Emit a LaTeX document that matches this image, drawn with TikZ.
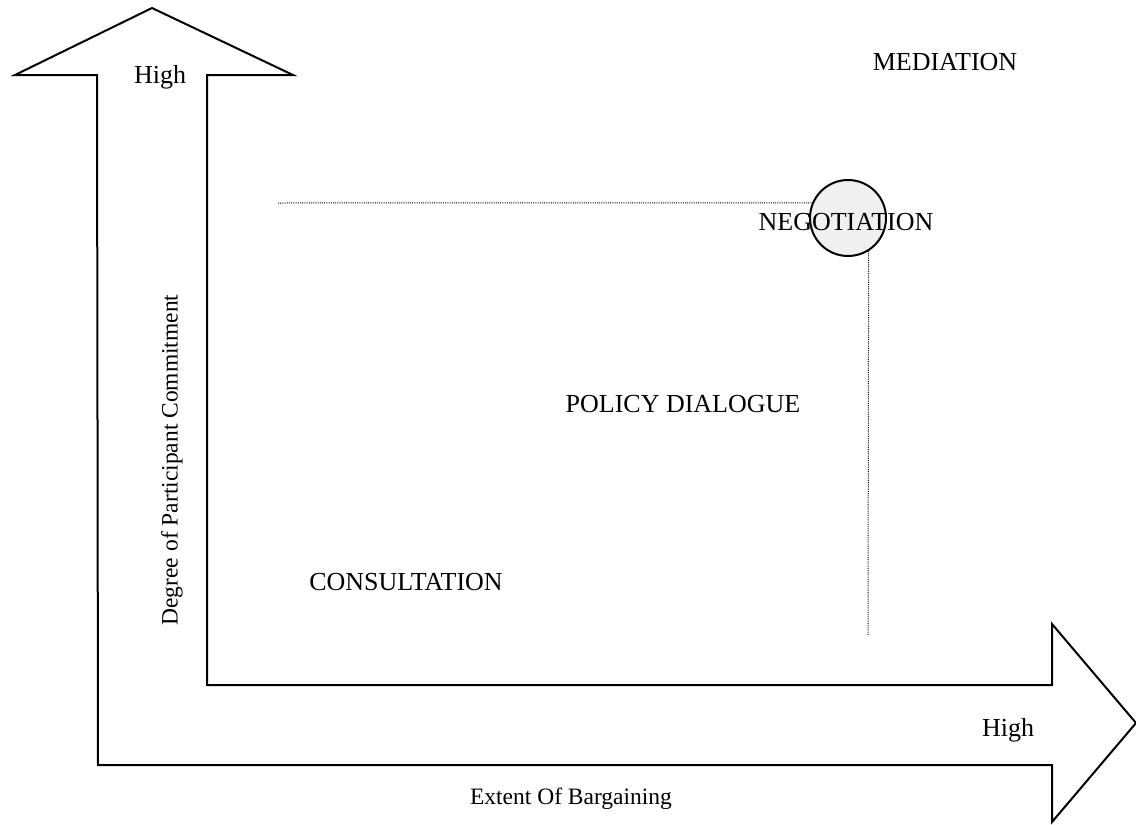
\documentclass[tikz,border=0pt]{standalone}
\usepackage{fontspec}
\setmainfont{Liberation Serif}

\begin{document}
\begin{tikzpicture}
	[x=1pt, y=-1pt, line width=2pt, every node/.style={font=\fontsize{26}{30}\selectfont},
	small/.style={font=\fontsize{23.5}{28}\selectfont},
	guide/.style={line width=1pt, dash pattern=on 1pt off 1.2pt}]
	\useasboundingbox (0,0) rectangle (1136,825);
	\draw (97,75) -- (15,75) -- (152,8) -- (293,75) -- (207,75) -- (207,685)
		-- (1052,685) -- (1052,624) -- (1136,723) -- (1052,822) -- (1052,765)
		-- (98,765) -- cycle;
	\node[circle, draw, fill=black!6, minimum size=76pt, inner sep=0pt] (ring) at (848,218) {};
	\node (negotiation) at (846,222) {NEGOTIATION};
	\node (mediation) at (945,62) {MEDIATION};
	\node (policy) at (683,404) {POLICY DIALOGUE};
	\node (consultation) at (406,582) {CONSULTATION};
	\node (highy) at (160,77) {High};
	\node (highx) at (1008,730) {High};
	\node[small] (extent) at (571,799) {Extent Of Bargaining};
	\node[small, rotate=90] (degree) at (172,460) {Degree of Participant Commitment};
	\coordinate (hstart) at (278,203);
	\coordinate (vend) at (868,635);
	\draw[guide] (hstart) -- (ring.157);
	\draw[guide] (ring.302) -- (vend);
\end{tikzpicture}
\end{document}
